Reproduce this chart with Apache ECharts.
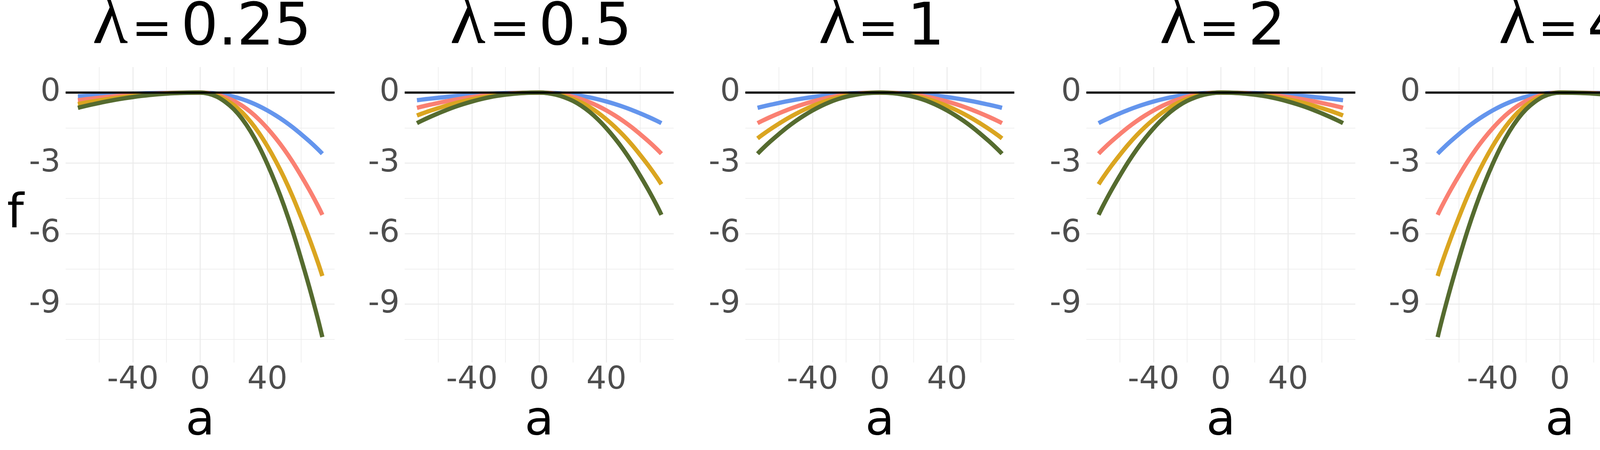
<!DOCTYPE html>
<html>
<head>
<meta charset="utf-8">
<title>f(a) by lambda and beta</title>
<script src="https://cdn.jsdelivr.net/npm/echarts@6.0.0/dist/echarts.min.js"></script>
<style>
  html, body { margin: 0; padding: 0; background: #fff; overflow: hidden; }
  #chart { width: 4512px; height: 1152px; }
</style>
</head>
<body>
<div id="chart"></div>
<script>
// ---- data ----
const aValues = [-72.7, -70, -65, -60, -55, -50, -45, -40, -35, -30, -25, -20, -15, -10, -5, 0,
                 5, 10, 15, 20, 25, 30, 35, 40, 45, 50, 55, 60, 65, 70, 72.7];
const lambdaLabels = ['0.25', '0.5', '1', '2', '4'];
const betaNames = ['1', '2', '3', '4'];
const betaColors = ['#6495ED', '#FA8072', '#DAA520', '#556B2F'];

// one row per beta (1..4), values of f at aValues
const fLambda025 = [
    [-0.163, -0.150, -0.13, -0.110, -0.092, -0.076, -0.061, -0.048, -0.036, -0.026, -0.018, -0.011, -0.006, -0.003, -0.001, 0,
     -0.012, -0.044, -0.1, -0.176, -0.28, -0.412, -0.572, -0.76, -0.972, -1.208, -1.472, -1.764, -2.072, -2.404, -2.6],
    [-0.325, -0.301, -0.259, -0.221, -0.184, -0.151, -0.122, -0.095, -0.072, -0.052, -0.035, -0.022, -0.013, -0.006, -0.002, 0,
     -0.024, -0.088, -0.2, -0.352, -0.56, -0.824, -1.144, -1.52, -1.944, -2.416, -2.944, -3.528, -4.144, -4.808, -5.2],
    [-0.488, -0.451, -0.389, -0.331, -0.276, -0.227, -0.182, -0.143, -0.107, -0.077, -0.053, -0.033, -0.019, -0.008, -0.002, 0,
     -0.036, -0.132, -0.3, -0.528, -0.84, -1.236, -1.716, -2.28, -2.916, -3.624, -4.416, -5.292, -6.216, -7.212, -7.8],
    [-0.65, -0.601, -0.518, -0.441, -0.368, -0.302, -0.243, -0.19, -0.143, -0.103, -0.07, -0.044, -0.025, -0.011, -0.003, 0,
     -0.048, -0.176, -0.4, -0.704, -1.12, -1.648, -2.288, -3.04, -3.888, -4.832, -5.888, -7.056, -8.288, -9.616, -10.4]
];
const fLambda05 = [
    [-0.325, -0.301, -0.259, -0.221, -0.184, -0.151, -0.122, -0.095, -0.072, -0.052, -0.035, -0.022, -0.013, -0.006, -0.002, 0,
     -0.006, -0.022, -0.05, -0.088, -0.14, -0.206, -0.286, -0.38, -0.486, -0.604, -0.736, -0.882, -1.036, -1.202, -1.3],
    [-0.65, -0.601, -0.518, -0.441, -0.368, -0.302, -0.243, -0.19, -0.143, -0.103, -0.07, -0.044, -0.025, -0.011, -0.003, 0,
     -0.012, -0.044, -0.1, -0.176, -0.28, -0.412, -0.572, -0.76, -0.972, -1.208, -1.472, -1.764, -2.072, -2.404, -2.6],
    [-0.975, -0.902, -0.777, -0.662, -0.552, -0.453, -0.365, -0.285, -0.215, -0.155, -0.105, -0.066, -0.038, -0.017, -0.005, 0,
     -0.018, -0.066, -0.15, -0.264, -0.42, -0.618, -0.858, -1.14, -1.458, -1.812, -2.208, -2.646, -3.108, -3.606, -3.9],
    [-1.3, -1.202, -1.036, -0.882, -0.736, -0.604, -0.486, -0.38, -0.286, -0.206, -0.14, -0.088, -0.05, -0.022, -0.006, 0,
     -0.024, -0.088, -0.2, -0.352, -0.56, -0.824, -1.144, -1.52, -1.944, -2.416, -2.944, -3.528, -4.144, -4.808, -5.2]
];
const fLambda1 = [
    [-0.65, -0.601, -0.518, -0.441, -0.368, -0.302, -0.243, -0.19, -0.143, -0.103, -0.07, -0.044, -0.025, -0.011, -0.003, 0,
     -0.003, -0.011, -0.025, -0.044, -0.07, -0.103, -0.143, -0.19, -0.243, -0.302, -0.368, -0.441, -0.518, -0.601, -0.65],
    [-1.3, -1.202, -1.036, -0.882, -0.736, -0.604, -0.486, -0.38, -0.286, -0.206, -0.14, -0.088, -0.05, -0.022, -0.006, 0,
     -0.006, -0.022, -0.05, -0.088, -0.14, -0.206, -0.286, -0.38, -0.486, -0.604, -0.736, -0.882, -1.036, -1.202, -1.3],
    [-1.95, -1.803, -1.554, -1.323, -1.104, -0.906, -0.729, -0.57, -0.429, -0.309, -0.21, -0.132, -0.075, -0.033, -0.009, 0,
     -0.009, -0.033, -0.075, -0.132, -0.21, -0.309, -0.429, -0.57, -0.729, -0.906, -1.104, -1.323, -1.554, -1.803, -1.95],
    [-2.6, -2.404, -2.072, -1.764, -1.472, -1.208, -0.972, -0.76, -0.572, -0.412, -0.28, -0.176, -0.1, -0.044, -0.012, 0,
     -0.012, -0.044, -0.1, -0.176, -0.28, -0.412, -0.572, -0.76, -0.972, -1.208, -1.472, -1.764, -2.072, -2.404, -2.6]
];
const fLambda2 = [
    [-1.3, -1.202, -1.036, -0.882, -0.736, -0.604, -0.486, -0.38, -0.286, -0.206, -0.14, -0.088, -0.05, -0.022, -0.006, 0,
     -0.002, -0.006, -0.013, -0.022, -0.035, -0.052, -0.072, -0.095, -0.122, -0.151, -0.184, -0.221, -0.259, -0.301, -0.325],
    [-2.6, -2.404, -2.072, -1.764, -1.472, -1.208, -0.972, -0.76, -0.572, -0.412, -0.28, -0.176, -0.1, -0.044, -0.012, 0,
     -0.003, -0.011, -0.025, -0.044, -0.07, -0.103, -0.143, -0.19, -0.243, -0.302, -0.368, -0.441, -0.518, -0.601, -0.65],
    [-3.9, -3.606, -3.108, -2.646, -2.208, -1.812, -1.458, -1.14, -0.858, -0.618, -0.42, -0.264, -0.15, -0.066, -0.018, 0,
     -0.005, -0.017, -0.038, -0.066, -0.105, -0.155, -0.215, -0.285, -0.365, -0.453, -0.552, -0.662, -0.777, -0.902, -0.975],
    [-5.2, -4.808, -4.144, -3.528, -2.944, -2.416, -1.944, -1.52, -1.144, -0.824, -0.56, -0.352, -0.2, -0.088, -0.024, 0,
     -0.006, -0.022, -0.05, -0.088, -0.14, -0.206, -0.286, -0.38, -0.486, -0.604, -0.736, -0.882, -1.036, -1.202, -1.3]
];
const fLambda4 = [
    [-2.6, -2.404, -2.072, -1.764, -1.472, -1.208, -0.972, -0.76, -0.572, -0.412, -0.28, -0.176, -0.1, -0.044, -0.012, 0,
     -0.001, -0.003, -0.006, -0.011, -0.018, -0.026, -0.036, -0.048, -0.061, -0.076, -0.092, -0.110, -0.13, -0.150, -0.163],
    [-5.2, -4.808, -4.144, -3.528, -2.944, -2.416, -1.944, -1.52, -1.144, -0.824, -0.56, -0.352, -0.2, -0.088, -0.024, 0,
     -0.002, -0.006, -0.013, -0.022, -0.035, -0.052, -0.072, -0.095, -0.122, -0.151, -0.184, -0.221, -0.259, -0.301, -0.325],
    [-7.8, -7.212, -6.216, -5.292, -4.416, -3.624, -2.916, -2.28, -1.716, -1.236, -0.84, -0.528, -0.3, -0.132, -0.036, 0,
     -0.002, -0.008, -0.019, -0.033, -0.053, -0.077, -0.107, -0.143, -0.182, -0.227, -0.276, -0.331, -0.389, -0.451, -0.488],
    [-10.4, -9.616, -8.288, -7.056, -5.888, -4.832, -3.888, -3.04, -2.288, -1.648, -1.12, -0.704, -0.4, -0.176, -0.048, 0,
     -0.003, -0.011, -0.025, -0.044, -0.07, -0.103, -0.143, -0.19, -0.243, -0.302, -0.368, -0.441, -0.518, -0.601, -0.65]
];
const panelValues = [fLambda025, fLambda05, fLambda1, fLambda2, fLambda4];

// axis ticks / limits
const xMajorTicks = [-40, 0, 40];
const xMinorTicks = [-60, -20, 20, 60];
const yMajorTicks = [0, -3, -6, -9];
const yMinorTicks = [-1.5, -4.5, -7.5, -10.5];
const xRange = [-80, 80];
const yRange = [-11.48, 1.085];

// ---- layout (pixels) ----
const panelLefts = [168, 1036, 1908, 2781, 3649];
const panelWidth = 688.6;
const panelTop = 171.7;
const panelHeight = 756.3;
const sans = 'DejaVu Sans';
const serif = 'Liberation Serif';
const gridColor = '#EBEBEB';

// width of the number part of each strip title, to center "λ = n" as a whole
const measureCtx = document.createElement('canvas').getContext('2d');
measureCtx.font = '150px "DejaVu Sans"';
function numberAdvance(txt) { return measureCtx.measureText(txt).width; }

const grids = [], xAxes = [], yAxes = [], titles = [], series = [];

panelLefts.forEach((left, p) => {
    grids.push({ left: left, top: panelTop, width: panelWidth, height: panelHeight, outerBoundsMode: 'none', containLabel: false });

    // major x axis (labels + major grid)
    xAxes.push({
        type: 'value', gridIndex: p, min: xRange[0], max: xRange[1],
        name: 'a', nameLocation: 'middle', nameGap: 80,
        nameTextStyle: { fontFamily: sans, fontSize: 122, color: '#000' },
        axisLine: { show: false },
        axisTick: { show: false, customValues: xMajorTicks },
        axisLabel: { customValues: xMajorTicks, margin: 5, fontFamily: sans, fontSize: 81, color: '#4D4D4D' },
        splitLine: { show: true, lineStyle: { color: gridColor, width: 2.6 } }
    });
    // minor x grid
    xAxes.push({
        type: 'value', gridIndex: p, min: xRange[0], max: xRange[1], position: 'bottom',
        axisLine: { show: false },
        axisTick: { show: false, customValues: xMinorTicks },
        axisLabel: { show: false, customValues: xMinorTicks },
        splitLine: { show: true, lineStyle: { color: gridColor, width: 1.5 } }
    });

    yAxes.push({
        type: 'value', gridIndex: p, min: yRange[0], max: yRange[1], position: 'left',
        name: p === 0 ? 'f' : '', nameLocation: 'middle', nameRotate: 0, nameGap: 107,
        nameTextStyle: { fontFamily: sans, fontSize: 122, color: '#000' },
        axisLine: { show: false },
        axisTick: { show: false, customValues: yMajorTicks },
        axisLabel: { customValues: yMajorTicks, margin: 13, fontFamily: sans, fontSize: 81, color: '#4D4D4D' },
        splitLine: { show: true, lineStyle: { color: gridColor, width: 2.6 } }
    });
    yAxes.push({
        type: 'value', gridIndex: p, min: yRange[0], max: yRange[1], position: 'right',
        axisLine: { show: false },
        axisTick: { show: false, customValues: yMinorTicks },
        axisLabel: { show: false, customValues: yMinorTicks },
        splitLine: { show: true, lineStyle: { color: gridColor, width: 1.5 } }
    });

    // facet strip "λ = n": three pieces sharing one baseline
    const cx = left + panelWidth / 2;
    const x0 = cx + (236 - numberAdvance(lambdaLabels[p])) / 2;   // left of the number
    const piece = (text, x, top, align, family, size) => ({
        text: text, left: x, top: top, textAlign: align, textVerticalAlign: 'top', padding: 0,
        textStyle: { fontFamily: family, fontSize: size, fontWeight: 'normal', color: '#000' }
    });
    titles.push(piece('λ', x0 - 136, -33, 'right', serif, 188));
    titles.push(piece('=', x0 - 22, 18.5, 'right', sans, 125));
    titles.push(piece(lambdaLabels[p], x0, 0, 'left', sans, 150));

    // horizontal reference line at f = 0 (under the curves)
    series.push({
        type: 'line', name: 'zero', xAxisIndex: 2 * p, yAxisIndex: 2 * p, data: [], z: 2,
        markLine: {
            silent: true, symbol: ['none', 'none'], label: { show: false },
            lineStyle: { color: '#000', width: 5.5, type: 'solid' },
            emphasis: { disabled: true },
            data: [{ yAxis: 0 }]
        }
    });

    panelValues[p].forEach((vals, b) => {
        series.push({
            type: 'line', name: betaNames[b], xAxisIndex: 2 * p, yAxisIndex: 2 * p,
            data: aValues.map((a, i) => [a, vals[i]]),
            smooth: 0.4, symbol: 'none', showSymbol: false, z: 3,
            color: betaColors[b],
            lineStyle: { width: 11, color: betaColors[b], cap: 'butt' },
            itemStyle: { color: betaColors[b] },
            emphasis: { disabled: true }
        });
    });
});

const chart = echarts.init(document.getElementById('chart'));
chart.setOption({
    animation: false,
    backgroundColor: '#fff',
    title: titles,
    grid: grids,
    xAxis: xAxes,
    yAxis: yAxes,
    legend: {
        orient: 'vertical', left: 4374.5, top: 444.75, padding: 0,
        itemWidth: 37, itemHeight: 11, itemGap: 0, icon: 'rect',
        selectedMode: false, data: betaNames,
        textStyle: { fontFamily: sans, fontSize: 121, color: '#000', lineHeight: 112.5, padding: [0, 0, 0, 13] }
    },
    graphic: [
        {
            type: 'rect', shape: { x: 4355, y: 242.3, width: 155.7, height: 666.7 },
            style: { fill: 'none', stroke: '#000', lineWidth: 1.5 }
        },
        {
            type: 'text', x: 4377, y: 329,
            style: { text: 'β', font: '150px "Liberation Serif"', fill: '#000', align: 'left', verticalAlign: 'middle' }
        }
    ],
    series: series
});
</script>
</body>
</html>
